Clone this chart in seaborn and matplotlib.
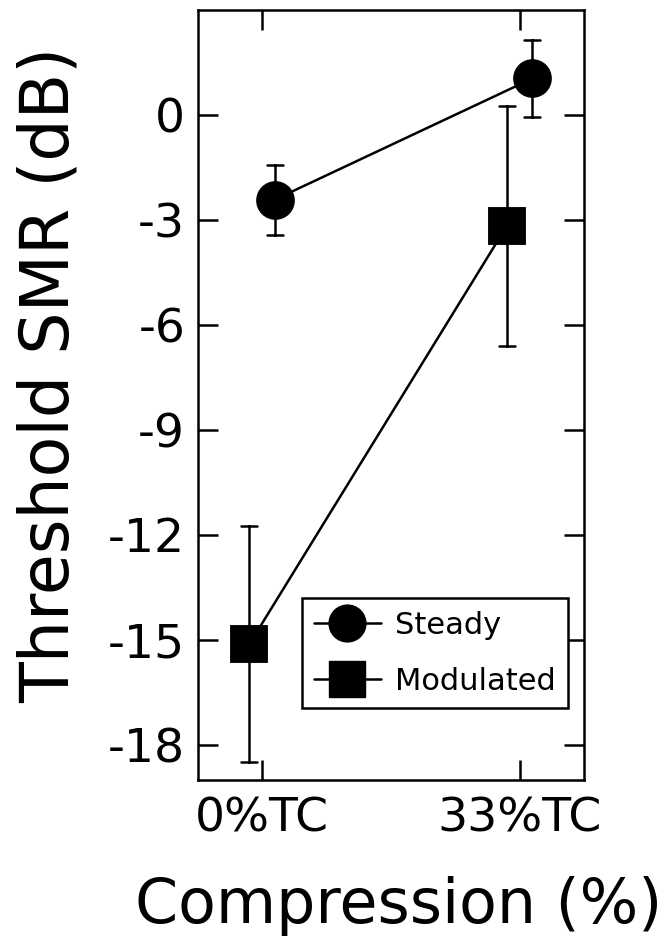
import numpy as np
import pandas as pd
import matplotlib
matplotlib.use("Agg")
import matplotlib.pyplot as plt
from matplotlib.lines import Line2D
import seaborn as sns

# ---- data ----
conditions = ["0%TC", "33%TC"]
noise_types = ["Steady", "Modulated"]
steady_mean = [-2.43, 1.03]
steady_err = [1.00, 1.10]
modulated_mean = [-15.14, -3.19]
modulated_err = [3.37, 3.43]
yticks = [0, -3, -6, -9, -12, -15, -18]
ytick_labels = ["0", "-3", "-6", "-9", "-12", "-15", "-18"]

# table: each point stored as mean-err / mean+err so that the mean is the
# estimate and the 100% percentile interval is the error bar
rows = []
for noise, means, errs in [("Steady", steady_mean, steady_err),
                           ("Modulated", modulated_mean, modulated_err)]:
    for c, m, e in zip(conditions, means, errs):
        rows.append({"cond": c, "noise": noise, "thr": m - e})
        rows.append({"cond": c, "noise": noise, "thr": m + e})
df = pd.DataFrame(rows)

sns.set_theme(style="white")
plt.rcParams["font.family"] = ["DejaVu Sans"]
plt.rcParams["axes.unicode_minus"] = False
plt.rcParams["text.color"] = "black"
plt.rcParams["axes.labelcolor"] = "black"

fig = plt.figure(figsize=(6.7, 9.41), dpi=100)
ax = fig.add_axes([0.295, 0.1716, 0.5766, 0.8183])

lw = 1.8
sns.pointplot(data=df, x="cond", y="thr", hue="noise",
              order=conditions, hue_order=["Modulated", "Steady"],
              palette=["black", "black"], markers=["s", "o"],
              linestyles=["-", "-"], dodge=0.1,
              estimator="mean", errorbar=("pi", 100), capsize=0.062,
              err_kws={"linewidth": lw}, markersize=26.5, linewidth=lw,
              legend=False, ax=ax)

ax.set_xlim(-0.25, 1.25)
ax.set_ylim(-19, 3)
ax.set_yticks(yticks)
ax.set_yticklabels(ytick_labels)
ax.set_xticks([0, 1])
ax.set_xticklabels(conditions)

for s in ax.spines.values():
    s.set_visible(True)
    s.set_color("black")
    s.set_linewidth(lw)

ax.tick_params(axis="both", which="major", direction="in", length=14.4,
               width=lw, color="black", top=True, right=True,
               bottom=True, left=True, labelsize=34, labelcolor="black")
ax.tick_params(axis="y", pad=9)
ax.tick_params(axis="x", pad=12)

ax.set_ylabel("Threshold SMR (dB)", fontsize=48, color="black")
ax.set_xlabel("Compression (%)", fontsize=44.5, color="black")
ax.yaxis.set_label_coords(-0.298, 0.525)
ax.xaxis.set_label_coords(0.52, -0.125)

handles = [Line2D([], [], color="black", marker="o", markersize=26.5, linewidth=lw),
           Line2D([], [], color="black", marker="s", markersize=26.5, linewidth=lw)]
leg = ax.legend(handles, noise_types, loc="lower left",
                bbox_to_anchor=(0.269, 0.0925), borderaxespad=0,
                fontsize=22, frameon=True, fancybox=False, framealpha=1,
                edgecolor="black", handlelength=2.2, handletextpad=0.45,
                borderpad=0.4, labelspacing=0.9, labelcolor="black")
leg.get_frame().set_linewidth(lw)

fig.savefig("out.png", dpi=100, facecolor="white")
